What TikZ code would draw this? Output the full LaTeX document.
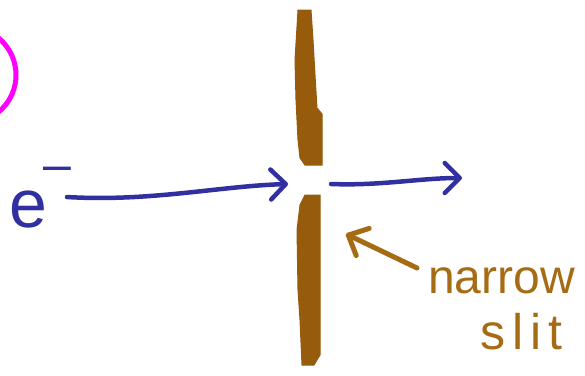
\documentclass[tikz,border=0pt]{standalone}
\usepackage{fontspec}
\setmainfont{Liberation Sans}
\usetikzlibrary{arrows.meta}
\definecolor{penblue}{RGB}{48,48,160}
\definecolor{slitbrown}{RGB}{150,92,12}
\definecolor{textbrown}{RGB}{165,108,20}
\definecolor{pink}{RGB}{255,0,255}
\tikzset{
  x=1pt, y=-1pt,
  bluearrow/.style={penblue, line width=4.5pt, line cap=round,
    -{Straight Barb[length=15pt,width=30pt,line width=4.5pt,round]}},
  brownarrow/.style={textbrown, line width=5pt, line cap=round,
    -{Straight Barb[length=16pt,width=30pt,line width=5pt,round]}},
  slitpart/.style={fill=slitbrown, draw=slitbrown, line width=1pt},
  label/.style={textbrown, inner sep=0pt, anchor=base west},
}
\begin{document}
\begin{tikzpicture}
\useasboundingbox (0,0) rectangle (585,375);
% magenta circle (partially visible)
\draw[pink, line width=5pt] (-32,75) circle (48);
% slit
\fill[slitpart] (298,10) -- (311,10) -- (313,40) -- (315,75) -- (317,108) -- (322,114) -- (322,165) -- (305,165) -- (300,158) -- (298,140) -- (296,100) -- (295,60) -- cycle;
\fill[slitpart] (305,195) -- (320,195) -- (320,355) -- (314,365) -- (302,365) -- (300,320) -- (298,290) -- (297,230) -- (300,205) -- cycle;
% electron label
\node[penblue, inner sep=0pt, anchor=base west, font=\fontsize{68}{68}\selectfont] (e) at (9,227) {e};
\node[penblue, inner sep=0pt, font=\fontsize{50}{50}\selectfont] (minus) at (57,174) {–};
% arrows
\coordinate (a1s) at (67,197);
\coordinate (a1e) at (288,184);
\coordinate (a2s) at (331,184);
\coordinate (a2e) at (462,178);
\draw[bluearrow] (a1s) .. controls (150,202) and (220,186) .. (a1e);
\draw[bluearrow] (a2s) .. controls (380,186) and (420,178) .. (a2e);
% label
\node[label, font=\fontsize{48}{48}\selectfont] (narrow) at (428,293) {narrow};
\node[label, font=\fontsize{50}{50}\selectfont] (slit) at (480,349) {s\hspace{7pt}l\hspace{7pt}i\hspace{7pt}t};
\coordinate (pt) at (417,268);
\coordinate (tip) at (346,234);
\draw[brownarrow] (pt) -- (tip);
\end{tikzpicture}
\end{document}
